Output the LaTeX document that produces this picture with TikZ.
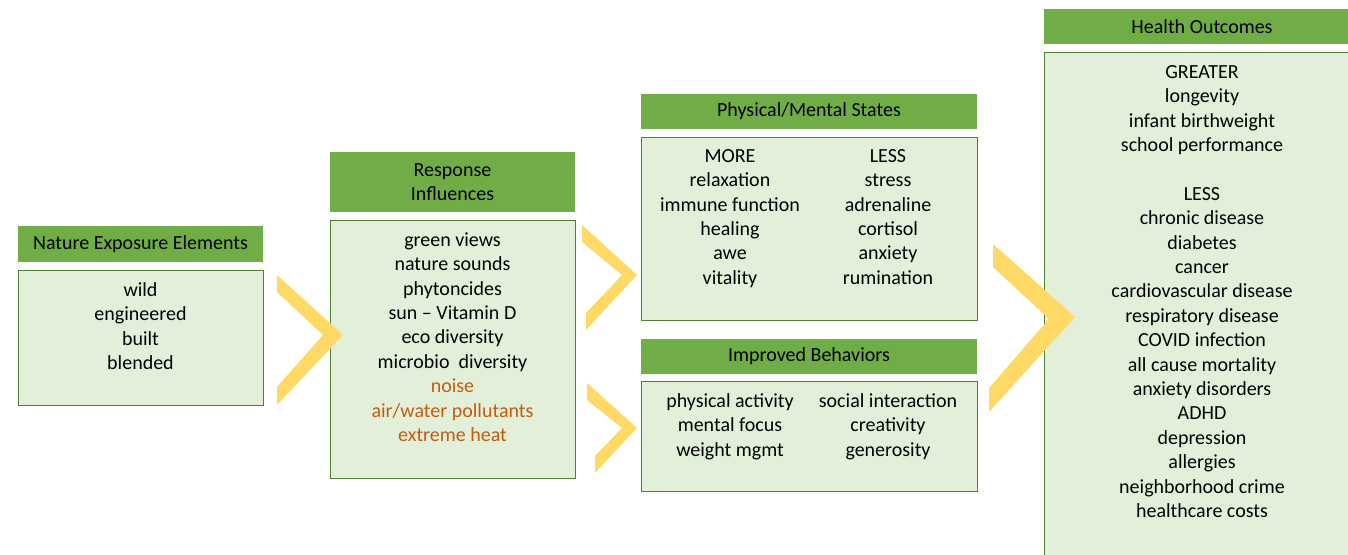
\documentclass[tikz,border=0pt]{standalone}
\usepackage{fontspec}
\setmainfont{Carlito}
\usepackage{xcolor}
\usepackage{tikz}
\usetikzlibrary{positioning}
\definecolor{hdrgreen}{HTML}{70AD47}
\definecolor{boxgreen}{HTML}{E2F0D9}
\definecolor{boxline}{HTML}{507E32}
\definecolor{chevyellow}{HTML}{FFD966}
\definecolor{warmorange}{HTML}{C55A11}
\tikzset{
  px/.style={x=1pt, y=-1pt, font=\fontsize{20}{24.4}\selectfont},
  h box/.style={fill=hdrgreen, align=center, inner sep=0pt, text=black},
  b box/.style={fill=boxgreen, draw=boxline, line width=1pt, inner sep=0pt},
  b text/.style={align=center, inner sep=0pt, anchor=north, text=black},
  chev/.style={fill=chevyellow, draw=none},
}

\begin{document}
\begin{tikzpicture}[px]
\useasboundingbox (0,0) rectangle (1348,554);
\clip (0,0) rectangle (1348,554);
% headers
\node[h box, minimum width=245pt, minimum height=36pt] (neh) at (140.5,244) {Nature Exposure Elements};
\node[h box, minimum width=245pt, minimum height=60pt] (rih) at (452.5,182) {Response\\Influences};
\node[h box, minimum width=336pt, minimum height=35pt] (pmh) at (809,111.5) {Physical/Mental States};
\node[h box, minimum width=336pt, minimum height=35pt] (ibh) at (809,356.5) {Improved Behaviors};
\node[h box, minimum width=316pt, minimum height=35pt] (hoh) at (1202,26.5) {Health Outcomes};
% boxes
\node[b box, minimum width=245pt, minimum height=135pt] (neb) at (140.5,337.5) {};
\node[b box, minimum width=245pt, minimum height=258pt] (rib) at (452.5,349) {};
\node[b box, minimum width=336pt, minimum height=183pt] (pmb) at (809,228.5) {};
\node[b box, minimum width=336pt, minimum height=110pt] (ibb) at (809,436) {};
\node[b box, minimum width=316pt, minimum height=518pt] (hob) at (1202,311) {};
% texts
\node[b text] (net) at (140.5,279) {\strut wild\\engineered\\built\\blended};
\node[b text] (rit) at (452.5,229) {\strut green views\\nature sounds\\phytoncides\\sun -- Vitamin D\\eco diversity\\microbio\ \ diversity\\
  \textcolor{warmorange}{noise}\\\textcolor{warmorange}{air/water pollutants}\\\textcolor{warmorange}{extreme heat}};
\node[b text] (pml) at (730,145) {\strut MORE\\relaxation\\immune function\\healing\\awe\\vitality};
\node[b text] (pmr) at (888,145) {\strut LESS\\stress\\adrenaline\\cortisol\\anxiety\\rumination};
\node[b text] (ibl) at (730,390) {\strut physical activity\\mental focus\\weight mgmt};
\node[b text] (ibr) at (888,390) {\strut social interaction\\creativity\\generosity};
\node[b text] (hot) at (1202,61) {\strut GREATER\\longevity\\infant birthweight\\school performance\\[24.4pt]LESS\\chronic disease\\diabetes\\cancer\\
  cardiovascular disease\\respiratory disease\\COVID infection\\all cause mortality\\anxiety disorders\\ADHD\\depression\\allergies\\
  neighborhood crime\\healthcare costs};
% chevrons
\fill[chev] (277,275) -- (343,335) -- (277,405) -- (277,387) -- (323,335) -- (277,292) -- cycle;
\fill[chev] (582,225) -- (637,275) -- (586,330) -- (586,313) -- (622,275) -- (582,242) -- cycle;
\fill[chev] (587,383) -- (637,428) -- (595,473) -- (595,456) -- (622,428) -- (587,400) -- cycle;
\fill[chev] (993,244) -- (1075,317) -- (989,412) -- (989,388) -- (1049,319) -- (993,267) -- cycle;
\end{tikzpicture}
\end{document}
